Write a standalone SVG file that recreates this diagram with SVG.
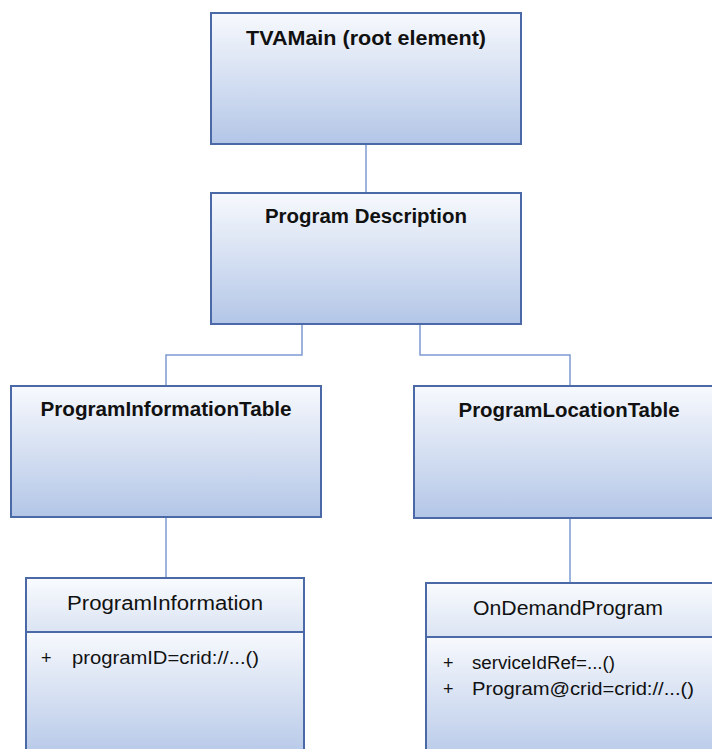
<svg xmlns="http://www.w3.org/2000/svg" width="712" height="749" viewBox="0 0 712 749">
<defs>
<linearGradient id="g" x1="0" y1="0" x2="0" y2="1">
<stop offset="0" stop-color="#f7f9fd"/>
<stop offset="1" stop-color="#b3c6e7"/>
</linearGradient>
<linearGradient id="gh" x1="0" y1="0" x2="0" y2="1">
<stop offset="0" stop-color="#f9fbfe"/>
<stop offset="1" stop-color="#dbe4f3"/>
</linearGradient>
<style>
.box{stroke:#4a69a6;stroke-width:2}
.c{fill:none;stroke:#7d9bd3;stroke-width:1.5}
.t{font-family:"Liberation Sans",Arial,sans-serif;font-weight:bold;font-size:20px;fill:#111;text-anchor:middle}
.n{font-family:"Liberation Sans",Arial,sans-serif;font-size:20px;fill:#111;text-anchor:middle}
.a{font-family:"Liberation Sans",Arial,sans-serif;font-size:18px;fill:#111}
</style>
</defs>
<g id="connectors">
<path class="c" d="M366 144V193"/>
<path class="c" d="M302 324V355H166V386"/>
<path class="c" d="M420 324V355H570V386"/>
<path class="c" d="M166 517V578"/>
<path class="c" d="M570 518V583"/>
</g>
<g id="tvamain">
<rect class="box" x="211" y="13" width="310" height="131" fill="url(#g)"/>
<text class="t" x="366" y="45" textLength="240" lengthAdjust="spacingAndGlyphs">TVAMain (root element)</text>
</g>
<g id="programDescription">
<rect class="box" x="211" y="193" width="310" height="131" fill="url(#g)"/>
<text class="t" x="366" y="223" textLength="202" lengthAdjust="spacingAndGlyphs">Program Description</text>
</g>
<g id="programInformationTable">
<rect class="box" x="11" y="386" width="310" height="131" fill="url(#g)"/>
<text class="t" x="166" y="416" textLength="251" lengthAdjust="spacingAndGlyphs">ProgramInformationTable</text>
</g>
<g id="programLocationTable">
<rect class="box" x="414" y="386" width="310" height="132" fill="url(#g)"/>
<text class="t" x="569" y="417" textLength="221" lengthAdjust="spacingAndGlyphs">ProgramLocationTable</text>
</g>
<g id="programInformation">
<rect class="box" x="26" y="578" width="278" height="54" fill="url(#gh)"/>
<rect class="box" x="26" y="632" width="278" height="130" fill="url(#g)"/>
<text class="n" x="165" y="610" textLength="196" lengthAdjust="spacingAndGlyphs">ProgramInformation</text>
<text class="a" x="41" y="664">+</text>
<text class="a" x="72" y="664" textLength="187" lengthAdjust="spacingAndGlyphs">programID=crid://...()</text>
</g>
<g id="onDemandProgram">
<rect class="box" x="426" y="583" width="300" height="54" fill="url(#gh)"/>
<rect class="box" x="426" y="637" width="300" height="130" fill="url(#g)"/>
<text class="n" x="568" y="615" textLength="190" lengthAdjust="spacingAndGlyphs">OnDemandProgram</text>
<text class="a" x="443" y="669">+</text>
<text class="a" x="472" y="669" textLength="143" lengthAdjust="spacingAndGlyphs">serviceIdRef=...()</text>
<text class="a" x="443" y="695">+</text>
<text class="a" x="472" y="695" textLength="222" lengthAdjust="spacingAndGlyphs">Program@crid=crid://...()</text>
</g>
</svg>
